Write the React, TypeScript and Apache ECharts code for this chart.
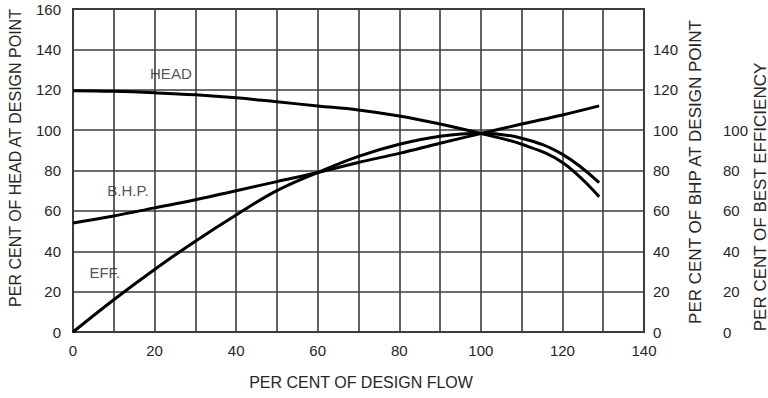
import React, { useEffect, useRef } from "react";
import * as echarts from "echarts";

const flow = [0, 10, 20, 30, 40, 50, 60, 70, 80, 90, 100, 110, 120, 129];
const headPct = [119.5, 119.2, 118.5, 117.5, 116, 114, 112, 110, 107, 103, 98.3, 93, 84, 67];
const bhpPct = [54, 57.5, 61.5, 65.5, 70, 74.5, 79, 84, 88.5, 93.5, 98.3, 103, 107.5, 112];
const effPct = [0, 16, 31, 45, 58, 70, 79, 87, 93, 97, 98.5, 96, 88, 74];

const xTicks = [0, 20, 40, 60, 80, 100, 120, 140];
const leftTicks = [0, 20, 40, 60, 80, 100, 120, 140, 160];
const bhpTicks = [0, 20, 40, 60, 80, 100, 120, 140];
const effTicks = [0, 20, 40, 60, 80, 100];

const curveLabels = ["HEAD", "B.H.P.", "EFF."];
const curveLabelX = [24, 13.5, 7.8];
const curveLabelY = [128, 70, 29.7];

const xName = "PER CENT OF DESIGN FLOW";
const leftName = "PER CENT OF HEAD AT DESIGN POINT";
const bhpName = "PER CENT OF BHP AT DESIGN POINT";
const effName = "PER CENT OF BEST EFFICIENCY";

const FONT = "Liberation Sans, Arial, Helvetica, sans-serif";
const TXT = "#262626";
const GRIDC = "#3c3c3c";

export default function App() {
  const ref = useRef<HTMLDivElement>(null);
  useEffect(() => {
    if (!ref.current) return;
    const chart = echarts.init(ref.current, undefined, { renderer: "svg" });
    const pairs = (ys: number[]) => flow.map((x, i) => [x, ys[i]]);
    const lineSeries = (name: string, ys: number[]) => ({
      name,
      type: "line",
      data: pairs(ys),
      smooth: 0.4,
      showSymbol: false,
      symbol: "none",
      lineStyle: { color: "#000", width: 3 },
      yAxisIndex: 0,
      z: 5,
    });
    const labelStyle = { color: TXT, fontSize: 15, fontFamily: FONT };
    const tickFmt = (allowed: number[]) => (v: number) => (allowed.indexOf(v) >= 0 ? String(v) : "");
    chart.setOption({
      animation: false,
      backgroundColor: "#fff",
      grid: {
        left: 73,
        right: 124,
        top: 9,
        bottom: 66,
        show: true,
        borderColor: GRIDC,
        borderWidth: 2,
        containLabel: false,
      },
      xAxis: {
        type: "value",
        min: 0,
        max: 140,
        interval: 10,
        axisLine: { show: false },
        axisTick: { show: false },
        axisLabel: { ...labelStyle, margin: 11, formatter: tickFmt(xTicks) },
        splitLine: { show: true, lineStyle: { color: GRIDC, width: 1.6 } },
      },
      yAxis: [
        {
          type: "value",
          min: 0,
          max: 160,
          interval: 20,
          position: "left",
          axisLine: { show: false },
          axisTick: { show: false },
          axisLabel: { ...labelStyle, margin: 12, formatter: tickFmt(leftTicks) },
          splitLine: { show: true, lineStyle: { color: GRIDC, width: 1.6 } },
        },
        {
          type: "value",
          min: 0,
          max: 160,
          interval: 20,
          position: "right",
          axisLine: { show: false },
          axisTick: { show: false },
          axisLabel: { ...labelStyle, margin: 9, formatter: tickFmt(bhpTicks) },
          splitLine: { show: false },
        },
        {
          type: "value",
          min: 0,
          max: 160,
          interval: 20,
          position: "right",
          offset: 70,
          axisLine: { show: false },
          axisTick: { show: false },
          axisLabel: { ...labelStyle, margin: 9, formatter: tickFmt(effTicks) },
          splitLine: { show: false },
        },
      ],
      series: [
        lineSeries("HEAD", headPct),
        lineSeries("BHP", bhpPct),
        lineSeries("EFF", effPct),
        {
          type: "scatter",
          symbolSize: 0,
          data: curveLabels.map((n, i) => ({ name: n, value: [curveLabelX[i], curveLabelY[i]] })),
          label: {
            show: true,
            position: "inside",
            formatter: (p: any) => p.name,
            color: TXT,
            fontSize: 15,
            fontFamily: FONT,
          },
          z: 6,
        },
      ],
      graphic: [
        {
          type: "text",
          x: 361,
          y: 382,
          style: { text: xName, fill: TXT, font: `16px ${FONT}`, textAlign: "center", textVerticalAlign: "middle" },
        },
        {
          type: "text",
          x: 15,
          y: 158,
          rotation: Math.PI / 2,
          style: { text: leftName, fill: TXT, font: `16px ${FONT}`, textAlign: "center", textVerticalAlign: "middle" },
        },
        {
          type: "text",
          x: 695,
          y: 172,
          rotation: Math.PI / 2,
          style: { text: bhpName, fill: TXT, font: `17px ${FONT}`, textAlign: "center", textVerticalAlign: "middle" },
        },
        {
          type: "text",
          x: 760,
          y: 197,
          rotation: Math.PI / 2,
          style: { text: effName, fill: TXT, font: `17px ${FONT}`, textAlign: "center", textVerticalAlign: "middle" },
        },
      ],
    });
    return () => chart.dispose();
  }, []);
  return <div ref={ref} style={{ width: 768, height: 398, position: "absolute", left: 0, top: 0 }} />;
}
